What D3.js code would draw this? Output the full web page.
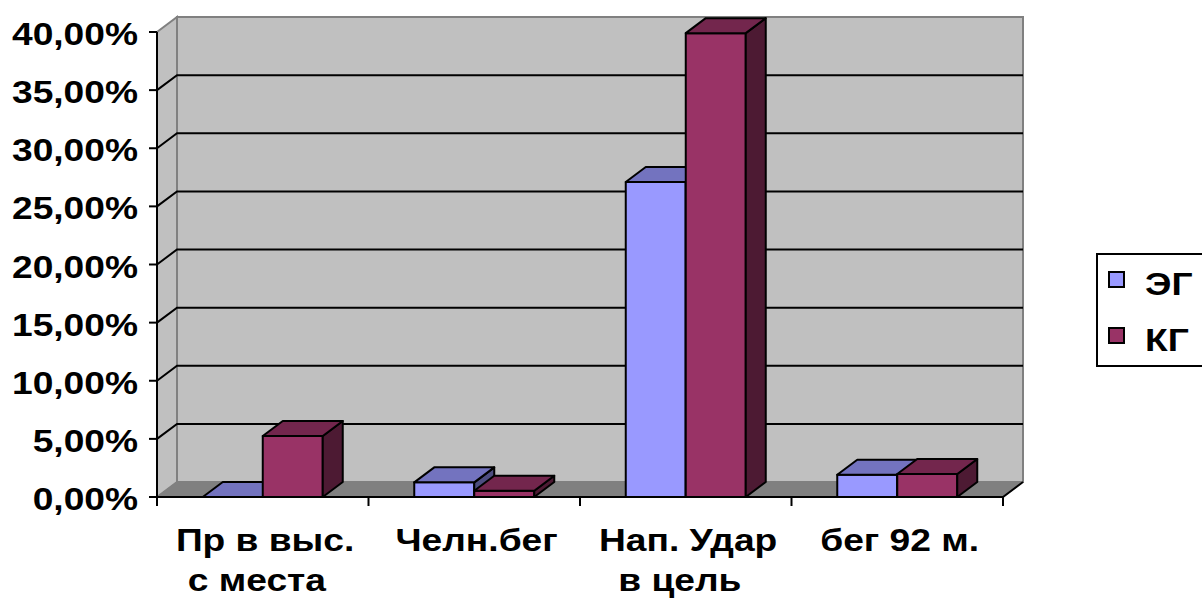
<!DOCTYPE html>
<html>
<head>
<meta charset="utf-8">
<script src="https://cdn.jsdelivr.net/npm/d3@7"></script>
<style>
  body { margin: 0; background: #fff; }
  text { font-family: "Liberation Sans", Arial, sans-serif; font-weight: bold; fill: #000; }
</style>
</head>
<body>
<div id="chart"></div>
<script>
// Chart data
const categories = ["Пр в выс. с места", "Челн.бег", "Нап. Удар в цель", "бег 92 м."];
const categoryLines = [["Пр в выс.", "с места"], ["Челн.бег"], ["Нап. Удар", "в цель"], ["бег 92 м."]];
const seriesNames = ["ЭГ", "КГ"];
const valuesEG = [0, 0.0126, 0.271, 0.0192];
const valuesKG = [0.0525, 0.0054, 0.399, 0.0198];
const yTicks = [0, 0.05, 0.10, 0.15, 0.20, 0.25, 0.30, 0.35, 0.40];

const W = 1202, H = 606;
const plotL = 157, plotR = 1003, plotT = 32, plotB = 497;
const dx = 20, dy = 15; // 3d depth offset
const fs = 31.5, stretch = 1.18; // text is drawn a bit wide, like the original

const front = { "ЭГ": "#9999ff", "КГ": "#993366" };
const topC = { "ЭГ": "#7373bf", "КГ": "#73264d" };
const sideC = { "ЭГ": "#4d4d80", "КГ": "#4d1a33" };

const fmt = d3.formatLocale({ decimal: ",", thousands: " ", grouping: [3], currency: ["", ""] }).format(".2%");

const svg = d3.select("#chart").append("svg")
  .attr("width", W).attr("height", H);

const x = d3.scaleBand().domain(categories).range([plotL, plotR]).padding(0);
const xs = d3.scaleBand().domain(seriesNames).range([0, x.bandwidth()])
  .paddingInner(0).paddingOuter(0.7625);
const y = d3.scaleLinear().domain([0, 0.4]).range([plotB, plotT]);

const pts = p => p.map(d => d.join(",")).join(" ");
const place = (tx, ty) => `translate(${tx},${ty}) scale(${stretch},1)`;

// walls
svg.append("polygon") // left side wall
  .attr("points", pts([[plotL, y(0.4)], [plotL + dx, y(0.4) - dy], [plotL + dx, y(0) - dy], [plotL, y(0)]]))
  .attr("fill", "#c0c0c0").attr("stroke", "#808080").attr("stroke-width", 2);
svg.append("rect") // back wall
  .attr("x", plotL + dx).attr("y", y(0.4) - dy)
  .attr("width", plotR - plotL).attr("height", y(0) - y(0.4))
  .attr("fill", "#c0c0c0").attr("stroke", "#808080").attr("stroke-width", 2);
svg.append("polygon") // floor
  .attr("points", pts([[plotL, y(0)], [plotL + dx, y(0) - dy], [plotR + dx, y(0) - dy], [plotR, y(0)]]))
  .attr("fill", "#808080").attr("stroke", "#808080").attr("stroke-width", 1);

// gridlines
svg.append("g").selectAll("polyline")
  .data(yTicks.filter(t => t > 0 && t < 0.4))
  .join("polyline")
  .attr("points", t => pts([[plotL, y(t)], [plotL + dx, y(t) - dy], [plotR + dx, y(t) - dy]]))
  .attr("fill", "none").attr("stroke", "#000").attr("stroke-width", 2);

// bars
const bars = [];
categories.forEach((c, i) => {
  bars.push({ cat: c, s: "ЭГ", v: valuesEG[i] });
  bars.push({ cat: c, s: "КГ", v: valuesKG[i] });
});
const bg = svg.append("g").selectAll("g").data(bars).join("g")
  .attr("stroke", "#000").attr("stroke-width", 2).attr("stroke-linejoin", "round");
bg.each(function (d) {
  const g = d3.select(this);
  const x0 = x(d.cat) + xs(d.s), x1 = x0 + xs.bandwidth();
  const yv = y(d.v), y0 = y(0);
  if (d.v > 0) {
    g.append("rect").attr("x", x0).attr("y", yv).attr("width", x1 - x0).attr("height", y0 - yv)
      .attr("fill", front[d.s]);
    g.append("polygon")
      .attr("points", pts([[x1, yv], [x1 + dx, yv - dy], [x1 + dx, y0 - dy], [x1, y0]]))
      .attr("fill", sideC[d.s]);
  }
  g.append("polygon")
    .attr("points", pts([[x0, yv], [x0 + dx, yv - dy], [x1 + dx, yv - dy], [x1, yv]]))
    .attr("fill", topC[d.s]);
});

// y axis
const ya = svg.append("g").attr("stroke", "#000").attr("stroke-width", 2);
ya.append("line").attr("x1", plotL).attr("x2", plotL).attr("y1", y(0.4)).attr("y2", y(0));
ya.selectAll("line.tick").data(yTicks).join("line").attr("class", "tick")
  .attr("x1", plotL - 8).attr("x2", plotL).attr("y1", d => y(d)).attr("y2", d => y(d));
svg.append("g").selectAll("text").data(yTicks).join("text")
  .attr("transform", d => place(plotL - 19, y(d) + 13))
  .attr("text-anchor", "end").attr("font-size", fs)
  .text(d => fmt(d));

// x axis
const xa = svg.append("g").attr("stroke", "#000").attr("stroke-width", 2);
xa.append("polyline")
  .attr("points", pts([[plotL, y(0)], [plotR, y(0)], [plotR + dx, y(0) - dy]]))
  .attr("fill", "none");
xa.selectAll("line.tick").data(categories.map(c => x(c)).concat([plotR])).join("line")
  .attr("class", "tick")
  .attr("x1", d => d).attr("x2", d => d).attr("y1", y(0)).attr("y2", y(0) + 9);

// category labels, second line sits a little left as in the original
svg.append("g").selectAll("text").data(categories).join("text")
  .attr("text-anchor", "middle").attr("font-size", fs)
  .attr("transform", c => place(x(c) + x.bandwidth() / 2, 551))
  .selectAll("tspan").data((c, i) => categoryLines[i]).join("tspan")
  .attr("x", (d, i) => i === 0 ? 2 : -5)
  .attr("dy", (d, i) => i === 0 ? 0 : 40)
  .text(d => d);

// legend
const lg = svg.append("g");
lg.append("rect").attr("x", 1097).attr("y", 254).attr("width", 140).attr("height", 112)
  .attr("fill", "#fff").attr("stroke", "#000").attr("stroke-width", 2);
const li = lg.selectAll("g.item").data(seriesNames).join("g").attr("class", "item")
  .attr("transform", (d, i) => `translate(1109,${272 + i * 56})`);
li.append("rect").attr("width", 15).attr("height", 15)
  .attr("fill", d => front[d]).attr("stroke", "#000").attr("stroke-width", 2);
li.append("text").attr("transform", place(36, 23)).attr("font-size", fs).text(d => d);
</script>
</body>
</html>
